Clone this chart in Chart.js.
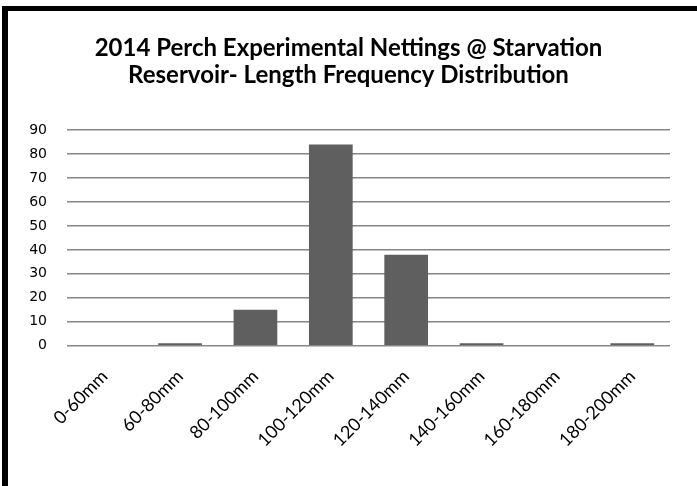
<!DOCTYPE html>
<html>
<head>
<meta charset="utf-8">
<script src="https://cdn.jsdelivr.net/npm/chart.js@4.4.1/dist/chart.umd.min.js"></script>
<style>
  html, body { margin: 0; padding: 0; background: #fff; }
  #wrap { position: relative; width: 697px; height: 486px; overflow: hidden; }
  #c { position: absolute; left: 0; top: 0; }
  .edge { position: absolute; background: #000; }
</style>
</head>
<body>
<div id="wrap">
  <canvas id="c" width="697" height="486"></canvas>
  <div class="edge" style="left:2px; top:6px; width:695px; height:5px;"></div>
  <div class="edge" style="left:2px; top:6px; width:6px; height:480px;"></div>
</div>
<script>
// Length classes and fish counts
const lengthClasses = ['0-60mm', '60-80mm', '80-100mm', '100-120mm', '120-140mm', '140-160mm', '160-180mm', '180-200mm'];
const fishCounts = [0, 1, 15, 84, 38, 1, 0, 1];
const yMax = 90;
const yStep = 10;

const titleLines = ['2014 Perch Experimental Nettings @ Starvation', 'Reservoir- Length Frequency Distribution'];

const ctx = document.getElementById('c').getContext('2d');
new Chart(ctx, {
    type: 'bar',
    data: {
        labels: lengthClasses,
        datasets: [{
            data: fishCounts,
            backgroundColor: '#5f5f5f',
            borderWidth: 0,
            barPercentage: 0.58,
            categoryPercentage: 1.0
        }]
    },
    options: {
        responsive: false,
        animation: false,
        layout: { padding: { left: 27, right: 27, top: 0, bottom: 15 } },
        plugins: {
            legend: { display: false },
            tooltip: { enabled: false },
            title: {
                display: true,
                text: titleLines,
                color: '#000',
                font: { family: 'Lato', size: 24, weight: 'bold', lineHeight: 1.125 },
                padding: { top: 35, bottom: 41 }
            }
        },
        scales: {
            x: {
                grid: { display: false, drawTicks: false },
                border: { display: false },
                ticks: {
                    color: '#000',
                    font: { family: 'Lato', size: 18 },
                    maxRotation: 45,
                    minRotation: 45,
                    padding: 20
                }
            },
            y: {
                min: 0,
                max: yMax,
                afterFit: (axis) => { axis.width = 40; },
                grid: { color: '#878787', lineWidth: 1.5, drawTicks: false },
                border: { display: false },
                ticks: {
                    stepSize: yStep,
                    color: '#000',
                    font: { family: 'DejaVu Sans', size: 14 },
                    padding: 20
                }
            }
        }
    }
});
</script>
</body>
</html>
